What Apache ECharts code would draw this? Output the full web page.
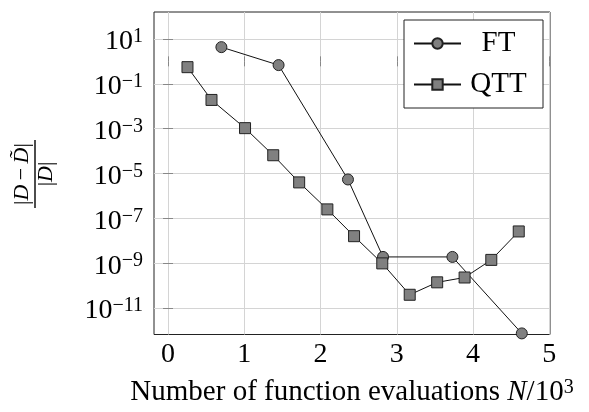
<!DOCTYPE html>
<html>
<head>
<meta charset="utf-8">
<script src="https://cdn.jsdelivr.net/npm/echarts@6/dist/echarts.min.js"></script>
<style>
  html, body { margin: 0; padding: 0; background: #fff; }
  #chart { width: 589px; height: 412px; }
</style>
</head>
<body>
<div id="chart"></div>
<script>
// x: number of function evaluations N / 10^3, y: relative error |D - D~| / |D|
const ftN = [0.70, 1.45, 2.36, 2.82, 3.73, 4.64];
const ftErr = [4.3, 6.8e-1, 5.4e-6, 1.9e-9, 1.9e-9, 7.4e-13];
const qttN = [0.255, 0.57, 1.01, 1.38, 1.72, 2.09, 2.44, 2.81, 3.17, 3.53, 3.89, 4.24, 4.60];
const qttErr = [5.5e-1, 1.9e-2, 1.05e-3, 6.5e-5, 4.0e-6, 2.5e-7, 1.6e-8, 9.8e-10, 3.9e-11, 1.4e-10, 2.3e-10, 1.4e-9, 2.6e-8];
const xTicks = [0, 1, 2, 3, 4, 5];
const yTickExp = [-11, -9, -7, -5, -3, -1, 1];

const FONT = '"Liberation Serif", "DejaVu Serif", serif';
const gridColor = '#d4d4d4';
const tickColor = '#888';

const chart = echarts.init(document.getElementById('chart'));

// log axis drawn as exponent on a value axis
const toPoints = (xs, ys) => xs.map((x, i) => [x, Math.log10(ys[i])]);

const tickOpts = (vals) => ({
  show: true,
  inside: true,
  length: 5,
  customValues: vals,
  lineStyle: { color: tickColor, width: 1 },
});

const option = {
  animation: false,
  backgroundColor: '#fff',
  grid: {
    left: 154,
    right: 39,
    top: 12,
    bottom: 75,
    show: true,
    borderColor: '#222',
    borderWidth: 1,
    backgroundColor: 'transparent',
  },
  xAxis: [
    {
      type: 'value',
      min: -0.184,
      max: 5.01,
      axisLine: { show: false },
      axisTick: tickOpts(xTicks),
      splitLine: { show: true, lineStyle: { color: gridColor, width: 1 } },
      axisLabel: {
        customValues: xTicks,
        margin: 6,
        fontFamily: FONT,
        fontSize: 28,
        color: '#000',
      },
      name: '{r|Number of function evaluations }{i|N}{r|/10}{e|3}',
      nameLocation: 'middle',
      nameGap: 43,
      nameTextStyle: {
        rich: {
          r: { fontFamily: FONT, fontSize: 29, color: '#000', lineHeight: 30 },
          i: { fontFamily: FONT, fontSize: 29, fontStyle: 'italic', color: '#000', lineHeight: 30 },
          e: { fontFamily: FONT, fontSize: 20, color: '#000', lineHeight: 16, verticalAlign: 'top' },
        },
      },
    },
    {
      type: 'value',
      position: 'top',
      min: -0.184,
      max: 5.01,
      axisLine: { show: false },
      axisTick: tickOpts(xTicks),
      splitLine: { show: false },
      axisLabel: { show: false },
    },
  ],
  yAxis: [
    {
      type: 'value',
      min: -12.18,
      max: 2.2,
      axisLine: { show: false },
      axisTick: tickOpts(yTickExp),
      splitLine: { show: true, lineStyle: { color: gridColor, width: 1 } },
      axisLabel: {
        customValues: yTickExp,
        margin: 11,
        padding: [6, 0, 0, 0],
        formatter: (v) => `{b|10}{e|${v < 0 ? '\u2212' : ''}${Math.abs(v)}}`,
        rich: {
          b: { fontFamily: FONT, fontSize: 28, color: '#000', lineHeight: 30 },
          e: { fontFamily: FONT, fontSize: 20, color: '#000', lineHeight: 16, verticalAlign: 'top' },
        },
      },
    },
    {
      type: 'value',
      position: 'right',
      min: -12.18,
      max: 2.2,
      axisLine: { show: false },
      axisTick: tickOpts(yTickExp),
      splitLine: { show: false },
      axisLabel: { show: false },
    },
  ],
  legend: {
    orient: 'vertical',
    left: 404,
    top: 20,
    padding: [9, 12, 9, 9],
    itemGap: 12,
    itemWidth: 47,
    itemHeight: 13,
    borderColor: '#222',
    borderWidth: 1,
    borderRadius: 0,
    backgroundColor: '#fff',
    formatter: (name) => `{t|${name}}`,
    textStyle: {
      rich: {
        t: { fontFamily: FONT, fontSize: 29, color: '#000', width: 65, align: 'center', lineHeight: 24 },
      },
    },
    data: ['FT', 'QTT'],
  },
  graphic: [
    {
      type: 'group',
      x: 35,
      y: 174,
      rotation: Math.PI / 2,
      children: [
        {
          type: 'text',
          x: 0,
          y: -13,
          style: {
            text: '{r||}{i|D}{r|\u2009\u2212\u2009}{i|D\u0303}{r||}',
            align: 'center',
            verticalAlign: 'middle',
            rich: {
              r: { fontFamily: FONT, fontSize: 22, fill: '#000' },
              i: { fontFamily: FONT, fontSize: 22, fontStyle: 'italic', fill: '#000' },
            },
          },
        },
        {
          type: 'line',
          shape: { x1: -34, y1: 0, x2: 34, y2: 0 },
          style: { stroke: '#000', lineWidth: 1.4 },
        },
        {
          type: 'text',
          x: 0,
          y: 11,
          style: {
            text: '{r||}{i|D}{r||}',
            align: 'center',
            verticalAlign: 'middle',
            rich: {
              r: { fontFamily: FONT, fontSize: 22, fill: '#000' },
              i: { fontFamily: FONT, fontSize: 22, fontStyle: 'italic', fill: '#000' },
            },
          },
        },
      ],
    },
  ],
  series: [
    {
      name: 'FT',
      type: 'line',
      data: toPoints(ftN, ftErr),
      symbol: 'circle',
      symbolSize: 11,
      lineStyle: { color: '#111', width: 1 },
      itemStyle: { color: '#808080', borderColor: '#222', borderWidth: 1 },
    },
    {
      name: 'QTT',
      type: 'line',
      data: toPoints(qttN, qttErr),
      symbol: 'rect',
      symbolSize: 11,
      lineStyle: { color: '#111', width: 1 },
      itemStyle: { color: '#808080', borderColor: '#222', borderWidth: 1 },
    },
  ],
};

chart.setOption(option);
</script>
</body>
</html>
